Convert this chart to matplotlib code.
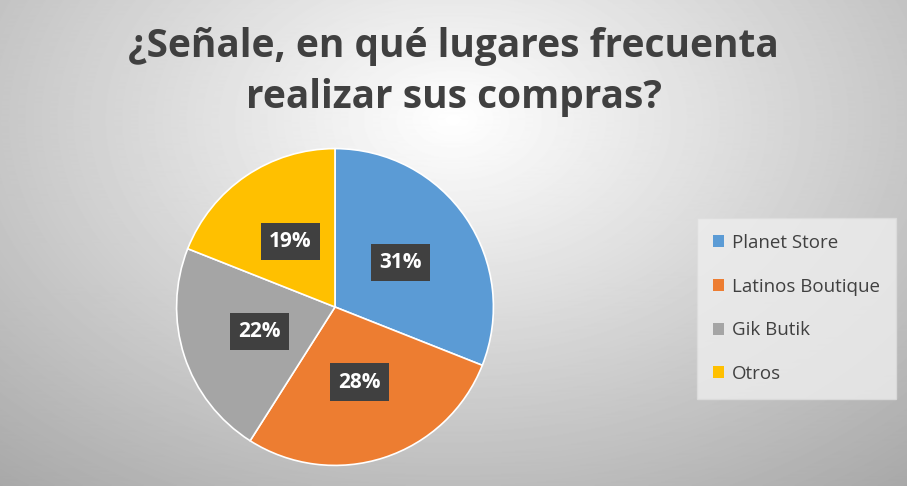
import numpy as np
import matplotlib
matplotlib.use("Agg")
from matplotlib import pyplot as plt

# data
lugares = ["Planet Store", "Latinos Boutique", "Gik Butik", "Otros"]
porcentajes = [31, 28, 22, 19]
colores = ["#5b9bd5", "#ed7d31", "#a5a5a5", "#ffc000"]
titulo = "¿Señale, en qué lugares frecuenta\nrealizar sus compras?"

plt.rcParams['font.family'] = ['Open Sans', 'DejaVu Sans']

fig = plt.figure(figsize=(9.07, 4.86), dpi=100)

# radial gradient background
bg = fig.add_axes([0, 0, 1, 1])
yy, xx = np.mgrid[0:486, 0:907]
r = np.sqrt(((xx - 453) / 620.0) ** 2 + ((yy - 120) / 420.0) ** 2)
shade = np.clip(1.0 - 0.30 * r, 0, 1)
bg.imshow(shade, cmap='gray', vmin=0, vmax=1, aspect='auto', extent=[0, 1, 0, 1])
bg.axis('off')

fig.text(0.5, 0.852, titulo, ha='center', va='center', fontsize=28,
         fontweight='bold', color='#404040', linespacing=1.4)

ax = fig.add_axes([(335 - 160)/907, 1 - (307 + 160)/486, 320/907, 320/486])
wedges, texts, autotexts = ax.pie(porcentajes, colors=colores, startangle=90,
                                  counterclock=False, autopct='%d%%',
                                  pctdistance=0.5,
                                  wedgeprops=dict(edgecolor='white', linewidth=1.2))
for t in autotexts:
    t.set_color('white')
    t.set_fontweight('bold')
    t.set_fontsize(15)
    t.set_bbox(dict(boxstyle='square,pad=0.4', facecolor='#404040', edgecolor='none'))
ax.set_xlim(-1.01, 1.01)
ax.set_ylim(-1.01, 1.01)
ax.set_aspect('equal')

leg = fig.legend(wedges, lugares, loc='upper left',
                 bbox_to_anchor=(697/907, 1 - 218/486), fontsize=13.5,
                 frameon=True, fancybox=False, handlelength=0.6, handleheight=0.6,
                 labelspacing=1.37, borderpad=0.85, handletextpad=0.4,
                 borderaxespad=0, labelcolor='#404040')
leg.get_frame().set_facecolor('#eeeeee')
leg.get_frame().set_edgecolor('#dddddd')
for h in leg.legend_handles:
    h.set_edgecolor('none')

fig.savefig('out.png', dpi=100)
